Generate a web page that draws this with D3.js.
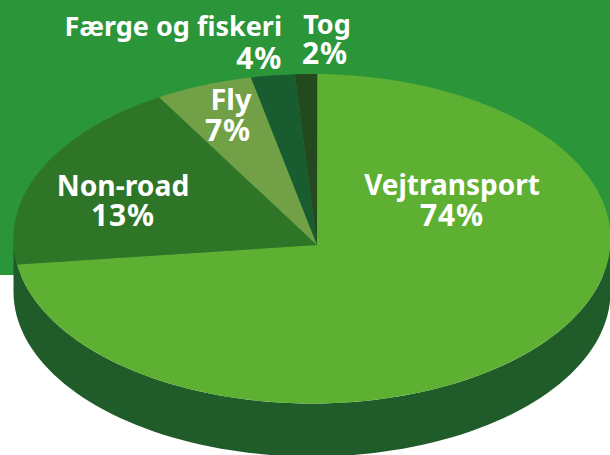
<!DOCTYPE html>
<html>
<head>
<meta charset="utf-8">
<script src="https://cdn.jsdelivr.net/npm/d3@7"></script>
<style>
body { margin: 0; background: #fff; overflow: hidden; }
text { font-family: "Noto Sans", sans-serif; font-weight: 700; fill: #fff; }
</style>
</head>
<body>
<div id="wrapper"></div>
<script>
// slices, clockwise from the top
var categories = ["Vejtransport", "Non-road", "Fly", "Færge og fiskeri", "Tog"];
var percents = [74, 13, 7, 4, 2];
// the drawn wedges don't follow the printed percents, degrees
var drawnDegrees = [260, 68.2, 19, 8.5, 4.3];
var colors = ["#5eb033", "#2f7527", "#71a047", "#195c2f", "#24491f"];

var width = 610;
var height = 455;

var svg = d3.select("#wrapper").append("svg")
    .attr("width", width)
    .attr("height", height);

svg.append("rect")
    .attr("width", width)
    .attr("height", 275)
    .attr("fill", "#2b9539");

var xScaler = d3.scaleLinear().domain([-1, 1]).range([13.5, 610.5]);
var yScaler = d3.scaleLinear().domain([1, -1]).range([74, 403.5]);
var depth = 53;
var apex = [317, 245];

function rim(a) {
    return [xScaler(Math.sin(a)), yScaler(Math.cos(a))];
}
var line = d3.line();

// side wall, lower half of the rim pushed down
var lower = d3.range(90, 271, 2).map(function(d) { return rim(d * Math.PI / 180); });
var wall = lower.concat(lower.slice().reverse().map(function(p) { return [p[0], p[1] + depth]; }));
svg.append("path")
    .attr("d", line(wall) + "Z")
    .attr("fill", "#1f5c2a");

var pie = d3.pie()
    .sort(null)
    .startAngle(Math.PI / 180)
    .endAngle(Math.PI / 180 + 2 * Math.PI);
var arcs = pie(drawnDegrees);

svg.selectAll(".slice")
    .data(arcs)
    .enter().append("path")
    .attr("class", "slice")
    .attr("fill", function(d, i) { return colors[i]; })
    .attr("d", function(d) {
        var n = Math.ceil((d.endAngle - d.startAngle) / 0.01);
        var pts = d3.range(n + 1).map(function(k) {
            return rim(d.startAngle + (d.endAngle - d.startAngle) * k / n);
        });
        return line([apex].concat(pts)) + "Z";
    });

// label layout: x, anchor, baseline of name, baseline of percent
var labelX = [452, 123, 231, 282, 327];
var labelAnchor = ["middle", "middle", "middle", "end", "middle"];
var nameY = [195, 196, 110, 36, 34];
var nameSize = [28, 28.3, 29, 27, 27];
var percentY = [226, 226, 141, 69, 64];
var percentX = [452, 123, 228, 282, 325];

var labels = svg.selectAll(".label")
    .data(categories)
    .enter().append("g")
    .attr("class", "label")
    .attr("text-anchor", function(d, i) { return labelAnchor[i]; });
labels.append("text")
    .attr("x", function(d, i) { return labelX[i]; })
    .attr("y", function(d, i) { return nameY[i]; })
    .style("font-size", function(d, i) { return nameSize[i] + "px"; })
    .text(function(d) { return d; });
labels.append("text")
    .attr("x", function(d, i) { return percentX[i]; })
    .attr("y", function(d, i) { return percentY[i]; })
    .style("font-size", "30px")
    .style("letter-spacing", "0.8px")
    .text(function(d, i) { return percents[i] + "%"; });
</script>
</body>
</html>
